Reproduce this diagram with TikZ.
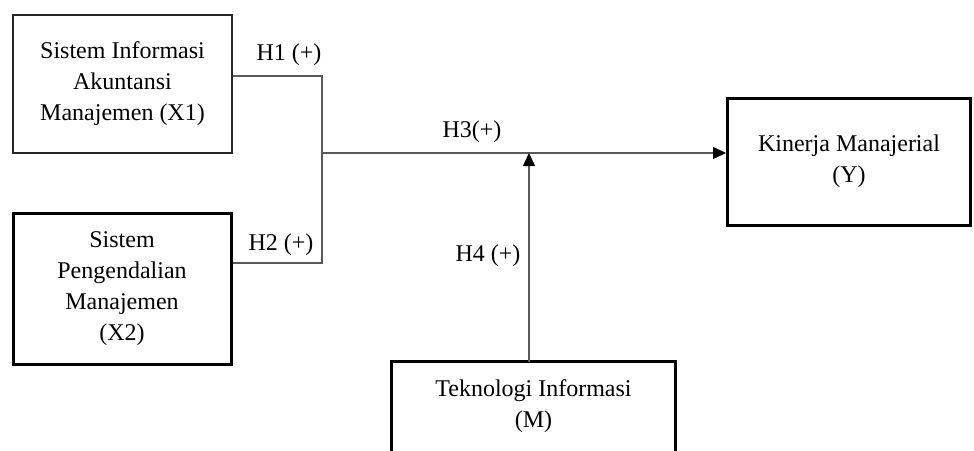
\documentclass[tikz,border=0pt]{standalone}
\usepackage{fontspec}
\setmainfont{Liberation Serif}
\usetikzlibrary{arrows.meta}
\begin{document}
\begin{tikzpicture}[x=1pt,y=-1pt,
  box/.style={draw=black,line width=3pt,align=center,inner sep=0pt,
    font=\fontsize{24}{31}\selectfont},
  thinbox/.style={box,draw=black!85,line width=1.6pt},
  conn/.style={draw=black!65,line width=1.4pt},
  tip/.style={-{Triangle[length=13pt,width=12pt,fill=black,color=black]}},
  lbl/.style={font=\fontsize{24}{31}\selectfont,inner sep=0pt}]
\useasboundingbox (0,0) rectangle (974,450);
\clip (0,0) rectangle (974,450);
\node[thinbox,minimum width=219pt,minimum height=138pt] (X1) at (122.5,84)
  {Sistem Informasi\\Akuntansi\\Manajemen (X1)};
\node[box,minimum width=218pt,minimum height=151pt] (X2) at (122,288.5)
  {Sistem\\Pengendalian\\Manajemen\\(X2)};
\node[box,minimum width=243pt,minimum height=127pt] (Y) at (849,161.5)
  {Kinerja Manajerial\\(Y)};
\node[box,draw=none,minimum width=281pt,minimum height=86pt] (M) at (533.5,406)
  {Teknologi Informasi\\(M)};
\draw[black,line width=3pt] ([yshift=-30pt]M.south west) -- (M.north west)
  -- (M.north east) -- ([yshift=-30pt]M.south east);
\coordinate (J) at (322,153);
\coordinate (jb) at (322,263);
\draw[conn] ([yshift=8pt]X1.east) -| (jb) -- ([yshift=25.5pt]X2.east);
\draw[conn,tip] (J) -- (Y.west |- J);
\draw[conn,tip] ([xshift=-4.5pt]M.north) -- ([xshift=-4.5pt]M.north |- J);
\node[lbl] (h1) at (289,55) {H1 (+)};
\node[lbl] (h2) at (281,245) {H2 (+)};
\node[lbl] (h3) at (472,132) {H3(+)};
\node[lbl] (h4) at (488,256) {H4 (+)};
\end{tikzpicture}
\end{document}
